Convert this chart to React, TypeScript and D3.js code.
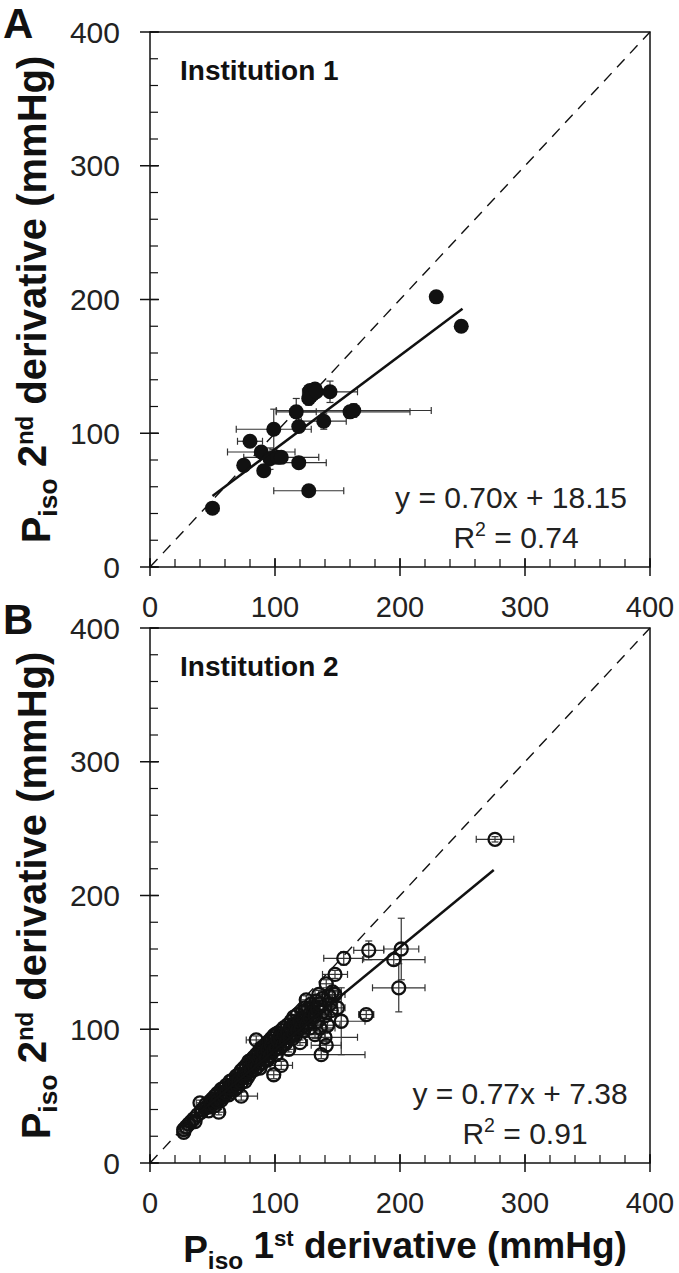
import React from 'react';
import * as d3 from 'd3';

const MAJOR_TICKS = [0, 100, 200, 300, 400];
const MINOR_TICKS = d3.range(0, 401, 20);

// [x, y, xErr, yErr]
const pointsA: number[][] = [
  [229, 202, 0, 0], [249, 180, 0, 0],
  [128, 132, 5, 4], [132, 133, 5, 4], [130, 129, 4, 5], [127, 126, 5, 5], [133, 131, 4, 4],
  [144, 131, 22, 8], [117, 116, 16, 10], [160, 116, 48, 3], [163, 117, 62, 5],
  [99, 103, 30, 15], [119, 105, 4, 3], [139, 109, 18, 6],
  [80, 94, 10, 0], [89, 86, 27, 0], [75, 76, 0, 0], [96, 81, 8, 8], [102, 82, 8, 0],
  [105, 82, 30, 0], [119, 78, 22, 0], [91, 72, 0, 0], [127, 57, 28, 0], [50, 44, 5, 0],
];

const pointsB: number[][] = [
  [27, 23, 3, 2], [27, 25, 2, 3], [29, 27, 2, 2], [31, 29, 3, 2], [33, 31, 2, 2], [35, 33, 3, 3],
  [36, 31, 2, 2], [38, 36, 2, 2], [40, 45, 3, 2], [41, 38, 2, 2], [42, 40, 3, 2], [44, 41, 2, 3],
  [45, 44, 2, 2], [46, 42, 3, 2], [48, 46, 2, 2], [48, 42, 3, 3], [50, 48, 2, 2], [51, 45, 3, 2],
  [52, 50, 2, 2], [53, 47, 3, 3], [54, 52, 2, 2], [55, 38, 4, 2], [56, 51, 3, 2], [57, 55, 2, 2],
  [58, 49, 2, 3], [59, 56, 3, 2], [60, 53, 2, 2], [61, 58, 3, 3], [62, 55, 2, 2], [63, 51, 4, 2],
  [64, 61, 2, 2], [65, 57, 3, 2], [66, 62, 2, 3], [67, 59, 3, 2], [68, 55, 2, 2], [69, 65, 3, 3],
  [70, 61, 2, 2], [71, 66, 3, 2], [72, 63, 2, 2], [73, 50, 13, 3], [73, 69, 2, 2], [74, 65, 3, 2],
  [75, 71, 3, 3], [76, 61, 2, 2], [77, 73, 3, 2], [78, 68, 4, 3], [79, 76, 2, 2], [80, 67, 3, 2],
  [81, 77, 2, 3], [82, 72, 3, 2], [83, 79, 2, 2], [84, 74, 5, 3], [85, 92, 8, 3], [85, 81, 3, 2],
  [86, 76, 2, 2], [87, 83, 3, 3], [88, 71, 4, 2], [89, 86, 2, 2], [90, 79, 3, 3], [91, 87, 2, 2],
  [92, 81, 4, 2], [93, 89, 3, 3], [94, 77, 2, 2], [95, 91, 3, 2], [96, 84, 4, 3], [97, 93, 2, 2],
  [98, 87, 3, 2], [99, 66, 5, 3], [99, 95, 2, 3], [100, 96, 3, 2], [100, 89, 2, 2], [101, 81, 4, 3],
  [102, 97, 3, 2], [103, 91, 2, 2], [104, 86, 4, 3], [105, 73, 9, 3], [105, 99, 3, 2], [106, 93, 2, 2],
  [107, 101, 3, 3], [108, 89, 5, 2], [109, 96, 2, 2], [110, 103, 3, 3], [111, 85, 4, 2], [112, 99, 2, 2],
  [113, 106, 3, 3], [114, 93, 4, 2], [115, 109, 2, 2], [116, 101, 3, 3], [117, 96, 5, 2], [118, 111, 2, 2],
  [119, 104, 3, 3], [120, 90, 6, 2], [121, 107, 2, 2], [122, 113, 3, 3], [123, 99, 4, 2], [124, 116, 2, 2],
  [125, 122, 4, 3], [126, 105, 3, 2], [127, 111, 5, 3], [128, 101, 4, 2], [129, 119, 2, 2], [130, 109, 6, 3],
  [131, 113, 3, 2], [132, 96, 8, 3], [133, 121, 3, 2], [134, 106, 5, 3], [135, 126, 3, 3], [136, 101, 12, 3],
  [137, 81, 35, 3], [138, 113, 4, 2], [140, 94, 26, 3], [141, 88, 12, 4], [141, 134, 5, 3], [142, 103, 10, 3],
  [144, 119, 6, 3], [146, 128, 4, 3], [148, 141, 10, 3], [148, 126, 8, 3], [150, 116, 6, 4], [153, 106, 19, 25],
  [155, 153, 16, 5], [173, 111, 6, 3], [175, 159, 12, 7], [195, 152, 25, 4], [199, 131, 21, 18],
  [201, 160, 14, 23], [276, 242, 15, 2],
  [47, 39, 3, 2], [49, 44, 2, 2], [52, 43, 3, 2], [54, 46, 2, 3], [57, 47, 3, 2], [59, 50, 2, 2],
  [61, 52, 3, 2], [63, 56, 2, 2], [65, 53, 3, 3], [66, 58, 2, 2], [68, 60, 3, 2], [70, 57, 2, 2],
  [71, 62, 3, 3], [73, 60, 2, 2], [75, 64, 3, 2], [76, 67, 2, 2], [78, 64, 3, 3], [79, 70, 2, 2],
  [81, 69, 3, 2], [82, 75, 2, 2], [84, 70, 3, 3], [86, 72, 2, 2], [87, 78, 3, 2], [88, 80, 2, 3],
  [90, 75, 3, 2], [91, 82, 2, 2], [93, 78, 3, 3], [94, 85, 2, 2], [96, 80, 3, 2], [97, 88, 2, 2],
  [99, 84, 3, 3], [101, 86, 2, 2], [102, 92, 3, 2], [104, 94, 2, 2], [106, 88, 3, 3], [107, 96, 2, 2],
  [109, 91, 3, 2], [110, 98, 2, 2], [112, 94, 3, 3], [113, 101, 2, 2], [115, 97, 3, 2], [116, 104, 2, 2],
  [118, 99, 3, 3], [120, 106, 2, 2], [121, 101, 3, 2], [123, 108, 2, 2], [125, 103, 3, 3], [126, 115, 2, 2],
  [128, 108, 3, 2], [130, 116, 2, 2], [132, 110, 3, 3], [134, 115, 2, 2], [136, 119, 3, 2], [138, 123, 3, 3],
  [140, 110, 4, 2], [143, 125, 3, 3], [145, 114, 5, 3],
];

const fitA = { slope: 0.70, intercept: 18.15, x0: 50, x1: 250 };
const fitB = { slope: 0.77, intercept: 7.38, x0: 25, x1: 275 };

const FONT = "'Liberation Sans', Arial, Helvetica, sans-serif";

function Title({ n, sup }: { n: string; sup: string }) {
  return (
    <>
      <tspan>P</tspan>
      <tspan fontSize="0.66em" dy="0.28em">iso</tspan>
      <tspan dy="-0.28em"> {n}</tspan>
      <tspan fontSize="0.6em" dy="-0.55em">{sup}</tspan>
      <tspan dy="0.33em"> derivative (mmHg)</tspan>
    </>
  );
}

function Panel(props: any) {
  const { top, bottom, letter, inst, pts, filled, fit, eq, r2, eqCx } = props;
  const x = d3.scaleLinear().domain([0, 400]).range([150, 650]);
  const y = d3.scaleLinear().domain([0, 400]).range([bottom, top]);
  const line = d3.line<number>().x((d) => x(d)).y((d) => y(fit.slope * d + fit.intercept));
  const ident = d3.line<number>().x((d) => x(d)).y((d) => y(d));
  const cap = 3.5;
  const r = filled ? 7.5 : 6.5;
  return (
    <g fontFamily={FONT}>
      <rect x={x(0)} y={y(400)} width={x(400) - x(0)} height={y(0) - y(400)} fill="none" stroke="#111" strokeWidth={1.5} />
      {MINOR_TICKS.map((t) => (
        <g key={'m' + t}>
          <line x1={x(t)} x2={x(t)} y1={y(0)} y2={y(0) - 8} stroke="#111" strokeWidth={1.2} />
          <line x1={x(0)} x2={x(0) + 8} y1={y(t)} y2={y(t)} stroke="#111" strokeWidth={1.2} />
        </g>
      ))}
      {MAJOR_TICKS.map((t) => (
        <g key={'M' + t}>
          <line x1={x(t)} x2={x(t)} y1={y(0) + 9} y2={y(0) - 9} stroke="#111" strokeWidth={1.5} />
          <line x1={x(0) - 10} x2={x(0) + 9} y1={y(t)} y2={y(t)} stroke="#111" strokeWidth={1.5} />
          <text x={x(t)} y={y(0) + 50} textAnchor="middle" fontSize={29} fill="#222">{t}</text>
          <text x={120} y={y(t) + 10.5} textAnchor="end" fontSize={30} fill="#222">{t}</text>
        </g>
      ))}
      <path d={ident([0, 400]) || ''} fill="none" stroke="#111" strokeWidth={1.4} strokeDasharray="11,8" />
      {pts.map((p: number[], i: number) => (
        <g key={'e' + i} stroke="#333" strokeWidth={1.2}>
          {p[2] > 0 && (
            <>
              <line x1={x(p[0] - p[2])} x2={x(p[0] + p[2])} y1={y(p[1])} y2={y(p[1])} />
              <line x1={x(p[0] - p[2])} x2={x(p[0] - p[2])} y1={y(p[1]) - cap} y2={y(p[1]) + cap} />
              <line x1={x(p[0] + p[2])} x2={x(p[0] + p[2])} y1={y(p[1]) - cap} y2={y(p[1]) + cap} />
            </>
          )}
          {p[3] > 0 && (
            <>
              <line x1={x(p[0])} x2={x(p[0])} y1={y(p[1] - p[3])} y2={y(p[1] + p[3])} />
              <line x1={x(p[0]) - cap} x2={x(p[0]) + cap} y1={y(p[1] - p[3])} y2={y(p[1] - p[3])} />
              <line x1={x(p[0]) - cap} x2={x(p[0]) + cap} y1={y(p[1] + p[3])} y2={y(p[1] + p[3])} />
            </>
          )}
        </g>
      ))}
      {pts.map((p: number[], i: number) => (
        <circle key={'c' + i} cx={x(p[0])} cy={y(p[1])} r={r}
          fill={filled ? '#111' : 'none'} stroke="#111" strokeWidth={filled ? 0 : 2.3} />
      ))}
      <path d={line([fit.x0, fit.x1]) || ''} fill="none" stroke="#111" strokeWidth={2.5} />
      <text x={3} y={top + 6} fontSize={42} fontWeight="bold" fill="#111">{letter}</text>
      <text x={180} y={top + 48} fontSize={28} fontWeight="bold" fill="#111">{inst}</text>
      <text x={eqCx} y={bottom - 59} fontSize={30} textAnchor="middle" fill="#222">{eq}</text>
      <text x={eqCx + 5} y={bottom - 19} fontSize={30} textAnchor="middle" fill="#222">
        <tspan>R</tspan><tspan fontSize="0.65em" dy="-0.6em">2</tspan><tspan dy="0.39em"> = {r2}</tspan>
      </text>
      <text transform={`translate(50, ${(top + bottom) / 2}) rotate(-90)`} textAnchor="middle"
        fontSize={40} fontWeight="bold" fill="#111">
        <Title n="2" sup="nd" />
      </text>
    </g>
  );
}

export default function App() {
  return (
    <svg width={679} height={1273} style={{ position: 'absolute', left: 0, top: 0, background: '#fff' }}>
      <rect width={679} height={1273} fill="#fff" />
      <Panel top={32} bottom={567} letter="A" inst="Institution 1" pts={pointsA} filled fit={fitA}
        eq="y = 0.70x + 18.15" r2="0.74" eqCx={511} />
      <Panel top={628} bottom={1163} letter="B" inst="Institution 2" pts={pointsB} filled={false} fit={fitB}
        eq="y = 0.77x + 7.38" r2="0.91" eqCx={520} />
      <text x={405} y={1262} textAnchor="middle" fontSize={37} fontWeight="bold" fill="#111" fontFamily={FONT}>
        <Title n="1" sup="st" />
      </text>
    </svg>
  );
}
